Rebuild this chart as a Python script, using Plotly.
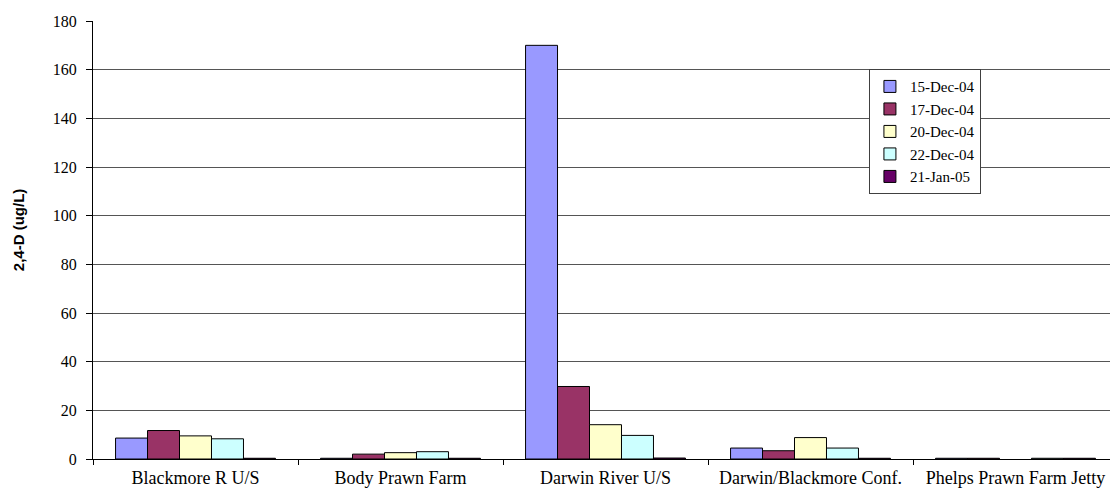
import plotly.graph_objects as go

sites = ["Blackmore R U/S", "Body Prawn Farm", "Darwin River U/S",
         "Darwin/Blackmore Conf.", "Phelps Prawn Farm Jetty"]

dec15 = [8.6, 0.3, 170.0, 4.5, 0.3]
dec17 = [11.7, 2.0, 29.8, 3.4, 0.3]
dec20 = [9.5, 2.6, 14.1, 8.8, None]
dec22 = [8.3, 3.0, 9.7, 4.5, 0.3]
jan21 = [0.3, 0.3, 0.4, 0.3, 0.3]

series_names = ["15-Dec-04", "17-Dec-04", "20-Dec-04", "22-Dec-04", "21-Jan-05"]
series_values = [dec15, dec17, dec20, dec22, jan21]
colors = ["#9999FF", "#993366", "#FFFFCC", "#CCFFFF", "#660066"]

y_ticks = [0, 20, 40, 60, 80, 100, 120, 140, 160, 180]
y_title = "2,4-D (ug/L)"

fig = go.Figure()
for name, vals, col in zip(series_names, series_values, colors):
    fig.add_trace(go.Bar(
        x=sites, y=vals, name=name,
        marker=dict(color=col, line=dict(color="#000000", width=1)),
    ))

serif = "Liberation Serif, Times New Roman, serif"

fig.update_layout(
    width=1110, height=480,
    margin=dict(l=85, r=0, t=13, b=29, autoexpand=False),
    paper_bgcolor="white", plot_bgcolor="white",
    barmode="group", bargap=0.22, bargroupgap=0,
    font=dict(family=serif, color="#000000"),
    showlegend=True,
    legend=dict(
        x=0.757, y=0.890, xanchor="left", yanchor="top",
        bgcolor="white", bordercolor="#404040", borderwidth=1,
        font=dict(family=serif, size=15, color="#000000"),
        tracegroupgap=0, itemwidth=30,
    ),
    xaxis=dict(
        type="category", range=[-0.5, 4.5], automargin=False,
        showline=True, linecolor="#000000", linewidth=1,
        ticks="outside", tickson="boundaries", ticklen=5,
        tickcolor="#000000", showgrid=False,
        tickfont=dict(family=serif, size=18, color="#000000"),
        ticklabelstandoff=2,
    ),
    yaxis=dict(
        range=[0, 180], tickvals=y_ticks, automargin=False,
        showline=True, linecolor="#000000", linewidth=1,
        ticks="outside", ticklen=6, tickcolor="#000000",
        showgrid=True, gridcolor="#555555", gridwidth=1,
        zeroline=False,
        tickfont=dict(family=serif, size=16, color="#000000"),
        ticklabelstandoff=6,
    ),
    annotations=[dict(
        text="<b>" + y_title + "</b>", textangle=-90,
        xref="paper", yref="paper", x=0, y=0.5224,
        xanchor="center", yanchor="middle", xshift=-75,
        showarrow=False,
        font=dict(family="Liberation Sans, Arial, sans-serif", size=15, color="#000000"),
    )],
)

fig.write_html("out.html")
